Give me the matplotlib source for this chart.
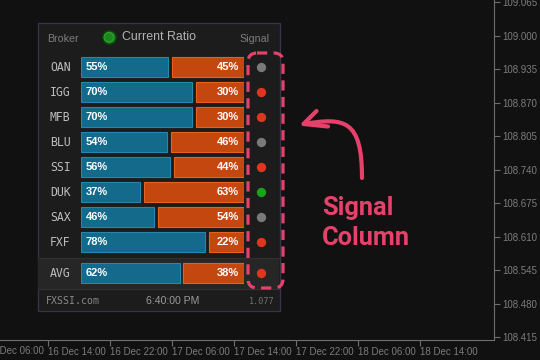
import numpy as np
import matplotlib
matplotlib.use('Agg')
import matplotlib.pyplot as plt
from matplotlib.patches import Rectangle, FancyBboxPatch, PathPatch
from matplotlib.path import Path
from matplotlib.transforms import blended_transform_factory

# data
brokers = ['OAN', 'IGG', 'MFB', 'BLU', 'SSI', 'DUK', 'SAX', 'FXF', 'AVG']
long_pct = [55, 70, 70, 54, 56, 37, 46, 78, 62]
short_pct = [45, 30, 30, 46, 44, 63, 54, 22, 38]
signals = ['neutral', 'sell', 'sell', 'neutral', 'sell', 'buy', 'neutral', 'sell', 'sell']

price_ticks = [108.415, 108.480, 108.545, 108.610, 108.675, 108.740,
               108.805, 108.870, 108.935, 109.000, 109.065]
time_ticks = [6, 14, 22, 30, 38, 46, 54, 62]   # hours since 16 Dec 00:00
time_labels = ['16 Dec 06:00', '16 Dec 14:00', '16 Dec 22:00', '17 Dec 06:00',
               '17 Dec 14:00', '17 Dec 22:00', '18 Dec 06:00', '18 Dec 14:00']

BG = '#111111'
PANEL = '#1c1c1c'
BLUE, BLUE_EDGE = '#136a8a', '#2587ab'
ORANGE, ORANGE_EDGE = '#c4470f', '#e8601e'
PINK = '#e5426b'
sig_colors = {'neutral': '#7a7a7a', 'sell': '#e0351e', 'buy': '#16a516'}

W, H = 540, 360
fig = plt.figure(figsize=(W / 100, H / 100), dpi=100, facecolor=BG)

# ---- price chart (empty) ----
ax = fig.add_axes([0, 20 / H, 494 / W, 340 / H], facecolor=BG)
ax.set_xlim(7.81, 71.55)
ax.set_ylim(108.4092, 109.0689)
ax.yaxis.tick_right()
ax.set_yticks(price_ticks)
ax.set_yticklabels(['%.3f' % v for v in price_ticks])
ax.set_xticks(time_ticks[1:])
ax.set_xticklabels(time_labels[1:])
for lab in ax.get_xticklabels():
    lab.set_horizontalalignment('left')
ax.tick_params(colors='#6e6e6e', labelcolor='#7c7c7c', labelsize=7, length=4, width=0.8)
ax.tick_params(axis='x', pad=1)
ax.tick_params(axis='y', pad=2)
for lab in ax.get_xticklabels() + ax.get_yticklabels():
    lab.set_family('Liberation Sans')
for s in ['top', 'left']:
    ax.spines[s].set_visible(False)
for s in ['right', 'bottom']:
    ax.spines[s].set_color('#6e6e6e')
    ax.spines[s].set_linewidth(0.8)
# first label whose tick is off the left edge
ax.text(time_ticks[0], -0.0175, time_labels[0], transform=blended_transform_factory(ax.transData, ax.transAxes),
        ha='left', va='top', fontsize=7, color='#7c7c7c', family='Liberation Sans', clip_on=False)

# ---- overlay in pixel coords ----
ov = fig.add_axes([0, 0, 1, 1], facecolor='none')
ov.set_xlim(0, W)
ov.set_ylim(H, 0)
ov.axis('off')

ov.add_patch(Rectangle((37.5, 22.5), 242, 288, facecolor=PANEL, edgecolor='#3a3350', lw=0.9, zorder=1))
ov.add_patch(Rectangle((38, 258.3), 241, 30.7, facecolor='#262626', edgecolor='none', zorder=1.1))
ov.plot([38, 279], [258.3, 258.3], color='#303030', lw=0.8, zorder=1.2)
ov.plot([38, 279], [289, 289], color='#333333', lw=0.8, zorder=1.2)

# header
ov.text(47, 38.5, 'Broker', fontsize=7.7, color='#7d7d7d', family='Liberation Sans', va='center', zorder=3)
ov.scatter([108.7], [37.3], s=95, color='#1d861d', edgecolor='#0b3f0b', linewidth=1.2, zorder=3)
ov.scatter([108.7], [37.3], s=45, color='none', edgecolor='#38a838', linewidth=0.6, zorder=3)
ov.text(121.5, 37.5, 'Current Ratio', fontsize=8.9, color='#b3b3b3', family='Liberation Sans', va='center', zorder=3)
ov.text(270, 38.5, 'Signal', fontsize=7.7, color='#7d7d7d', family='Liberation Sans', va='center', ha='right', zorder=3)

# footer
ov.text(45.5, 301, 'FXSSI.com', fontsize=7.1, color='#8a8a8a', family='DejaVu Sans Mono', va='center', zorder=3)
ov.text(173, 300.5, '6:40:00 PM', fontsize=7.6, color='#9a9a9a', family='Liberation Sans', va='center', ha='center', zorder=3)
ov.text(274, 301.5, '1.077', fontsize=6.1, color='#727272', family='DejaVu Sans Mono', va='center', ha='right', zorder=3)

# ---- ratio bars ----
row0, step = 67.3, 25.0
ypos = list(range(len(brokers) - 1)) + [8.24]
gap = 2.33
ymax = 8.74
top_px = row0 - step * 0.5
bot_px = row0 + step * ymax
axb = fig.add_axes([81 / W, 1 - bot_px / H, 162.7 / W, (bot_px - top_px) / H], facecolor='none')
axb.set_xlim(0, 100 + gap)
axb.set_ylim(ymax, -0.5)
axb.axis('off')
axb.barh(ypos, long_pct, height=0.8, left=0, color=BLUE, edgecolor=BLUE_EDGE, linewidth=0.8)
axb.barh(ypos, short_pct, height=0.8, left=np.array(long_pct) + gap, color=ORANGE,
         edgecolor=ORANGE_EDGE, linewidth=0.8)
for y, lp, sp in zip(ypos, long_pct, short_pct):
    axb.text(3, y, '%d%%' % lp, color='white', fontsize=8, fontweight='bold',
             family='Liberation Sans', va='center', ha='left')
    axb.text(100 + gap - 3, y, '%d%%' % sp, color='white', fontsize=8, fontweight='bold',
             family='Liberation Sans', va='center', ha='right')

mix = blended_transform_factory(ov.transData, axb.transData)
for y, name, sig in zip(ypos, brokers, signals):
    ov.text(50, y, name, transform=mix, fontsize=8.3, color='#bdbdbd', family='DejaVu Sans Mono',
            va='center', ha='left', zorder=3)
    ov.scatter([261.3], [y], s=45, color=sig_colors[sig], transform=mix, zorder=3, linewidths=0)

# ---- annotation ----
ov.add_patch(FancyBboxPatch((248, 53), 35, 235, boxstyle='round,pad=0,rounding_size=9',
                            fill=False, edgecolor=PINK, lw=2.3, linestyle=(0, (3.2, 2.0)), zorder=4))
arrow = Path([(362, 178), (362, 120), (345, 117), (304, 124)],
             [Path.MOVETO, Path.CURVE4, Path.CURVE4, Path.CURVE4])
ov.add_patch(PathPatch(arrow, fill=False, edgecolor=PINK, lw=3.0, capstyle='round', zorder=4))
ov.plot([316.5, 303.5, 328], [111, 124, 126.5], color=PINK, lw=3.0,
        solid_capstyle='round', solid_joinstyle='round', zorder=4)
ov.text(322, 215, 'Signal', fontsize=18.3, fontweight='bold', family='Roboto', color=PINK, va='baseline', zorder=4)
ov.text(322, 245, 'Column', fontsize=18.3, fontweight='bold', family='Roboto', color=PINK, va='baseline', zorder=4)

plt.savefig('out.png', dpi=100, facecolor=BG)
